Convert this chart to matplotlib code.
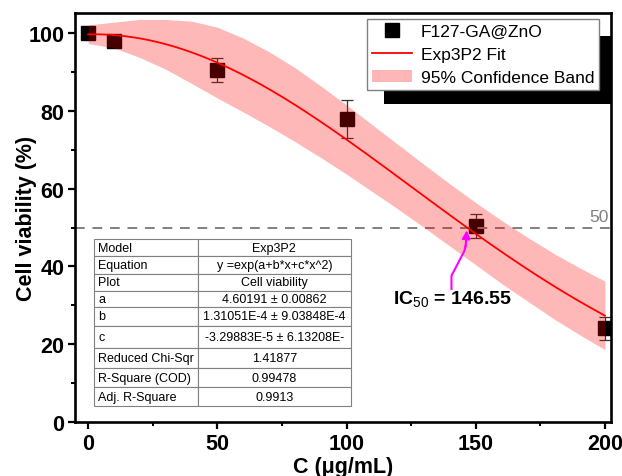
import numpy as np
import matplotlib
matplotlib.use("Agg")
import matplotlib.pyplot as plt
from matplotlib.patches import Rectangle, Patch
from matplotlib.lines import Line2D
import matplotlib.transforms as mtransforms

plt.rcParams['font.family'] = ['Liberation Sans', 'DejaVu Sans']
plt.rcParams['mathtext.fontset'] = 'custom'
plt.rcParams['mathtext.rm'] = 'Liberation Sans'
plt.rcParams['mathtext.bf'] = 'Liberation Sans:bold'

# ---- data ----
conc = [0, 10, 50, 100, 150, 200]
viability = [100.0, 97.9, 90.5, 77.9, 50.5, 24.1]
viability_err = [0.8, 0.8, 3.0, 4.9, 3.1, 2.9]

fit_a = 4.60191
fit_b = 1.31051e-4
fit_c = -3.29883e-5
ic50 = 146.55

band_x = [0, 10, 20, 30, 40, 50, 60, 70, 80, 90, 100,
          110, 120, 130, 140, 150, 160, 170, 180, 190, 200]
band_upper = [102.1, 102.8, 103.5, 103.5, 103.05, 101.5, 98.7, 95.2, 91.1, 86.4, 81.5,
              76.4, 71.3, 66.2, 61.2, 56.4, 51.8, 47.5, 43.4, 39.7, 36.2]
band_lower = [97.3, 96.2, 93.7, 90.7, 87.05, 83.3, 79.7, 76.0, 72.1, 68.0, 63.7,
              59.2, 54.7, 50.0, 45.2, 40.4, 35.6, 31.1, 26.6, 22.5, 18.6]

table_rows = [
    ["Model", "Exp3P2"],
    ["Equation", "y =exp(a+b*x+c*x^2)"],
    ["Plot", "Cell viability"],
    ["a", "4.60191 \u00b1 0.00862"],
    ["b", "1.31051E-4 \u00b1 9.03848E-4"],
    ["c", "-3.29883E-5 \u00b1 6.13208E-"],
    ["Reduced Chi-Sqr", "1.41877"],
    ["R-Square (COD)", "0.99478"],
    ["Adj. R-Square", "0.9913"],
]
row_heights = [17.5, 17.3, 17.3, 16, 18.3, 22.3, 20.3, 19, 18.3]

xticks = [0, 50, 100, 150, 200]
yticks = [0, 20, 40, 60, 80, 100]

# ---- figure ----
fig = plt.figure(figsize=(6.22, 4.77), dpi=100)
ax = fig.add_axes([0.121, 0.1132, 0.862, 0.857])

ax.errorbar(conc, viability, yerr=viability_err, fmt='s', color='black',
            markersize=9.5, ecolor='#333333', elinewidth=0.9, capsize=4,
            capthick=0.9, zorder=2)

ax.axhline(50, color='#808080', linestyle=(0, (5, 4)), linewidth=1.4, zorder=2.5)

ax.fill_between(band_x, band_lower, band_upper, color='red', alpha=0.28,
                linewidth=0, zorder=3)

xf = np.linspace(0, 200, 201)
yf = np.exp(fit_a + fit_b * xf + fit_c * xf ** 2)
ax.plot(xf, yf, color='red', linewidth=1.3, zorder=4)

trans = mtransforms.blended_transform_factory(ax.transAxes, ax.transData)
ax.text(0.995, 50.8, '50', transform=trans, ha='right', va='bottom',
        color='#808080', fontsize=12.5)

# IC50 annotation
mag = '#ff00ff'
ax.plot([140.6, 140.6, 145.6, 146.1], [34.2, 37.6, 44.0, 45.5], color=mag,
        linewidth=1.5, zorder=6)
ax.annotate('', xy=(146.5, 49.3), xytext=(146.1, 45.0),
            arrowprops=dict(arrowstyle='-|>', color=mag, lw=1.5,
                            mutation_scale=12, shrinkA=0, shrinkB=0), zorder=6)
ax.text(117.9, 31.6, 'IC$_{\\mathrm{50}}$ = 146.55', fontsize=14,
        fontweight='bold', ha='left', va='center', zorder=6)

ax.set_xlim(-5.0, 202.5)
ax.set_ylim(0, 105.1)
ax.set_xticks(xticks)
ax.set_yticks(yticks)
ax.set_xticks([25, 75, 125, 175], minor=True)
ax.set_yticks([10, 30, 50, 70, 90], minor=True)
ax.tick_params(axis='both', which='major', direction='out', length=5,
               width=1.6, labelsize=15.5, pad=3)
ax.tick_params(axis='both', which='minor', direction='out', length=3, width=1.4)
for lab in ax.get_xticklabels() + ax.get_yticklabels():
    lab.set_fontweight('bold')
for sp in ax.spines.values():
    sp.set_linewidth(1.9)

ax.set_xlabel('C (\u03bcg/mL)', fontsize=15.5, fontweight='bold', labelpad=1)
ax.set_ylabel('Cell viability (%)', fontsize=15.5, fontweight='bold')
ax.yaxis.set_label_coords(-0.072, 0.5)

# legend with black offset block
ax.add_patch(Rectangle((0.5755, 0.778), 0.4245, 0.166, transform=ax.transAxes,
                       facecolor='black', edgecolor='none', zorder=7))
handles = [Line2D([], [], marker='s', color='black', linestyle='none', markersize=9.5),
           Line2D([], [], color='red', linewidth=1.3),
           Patch(facecolor='#ffb6b6', edgecolor='none')]
leg = ax.legend(handles, ['F127-GA@ZnO', 'Exp3P2 Fit', '95% Confidence Band'],
                loc='upper left', bbox_to_anchor=(0.5438, 0.986), borderaxespad=0,
                fontsize=12.5, fancybox=False, framealpha=1, edgecolor='#808080',
                handlelength=2.3, handletextpad=0.5, labelspacing=0.45,
                borderpad=0.3)
leg.get_frame().set_linewidth(1.0)
leg.set_zorder(8)

# table
tb = ax.table(cellText=table_rows, colWidths=[0.4053, 0.5947],
              bbox=[0.0354, 0.0399, 0.478, 0.408], zorder=9)
tb.auto_set_font_size(False)
tb.set_fontsize(9)
total = sum(row_heights)
for (r, c), cell in tb.get_celld().items():
    cell.set_height(row_heights[r] / total)
    cell.set_edgecolor('#808080')
    cell.set_linewidth(0.8)
    cell.PAD = 0.04
    cell.set_text_props(ha='left' if c == 0 else 'center')
    cell._loc = 'left' if c == 0 else 'center'

fig.savefig('out.png', dpi=100)
